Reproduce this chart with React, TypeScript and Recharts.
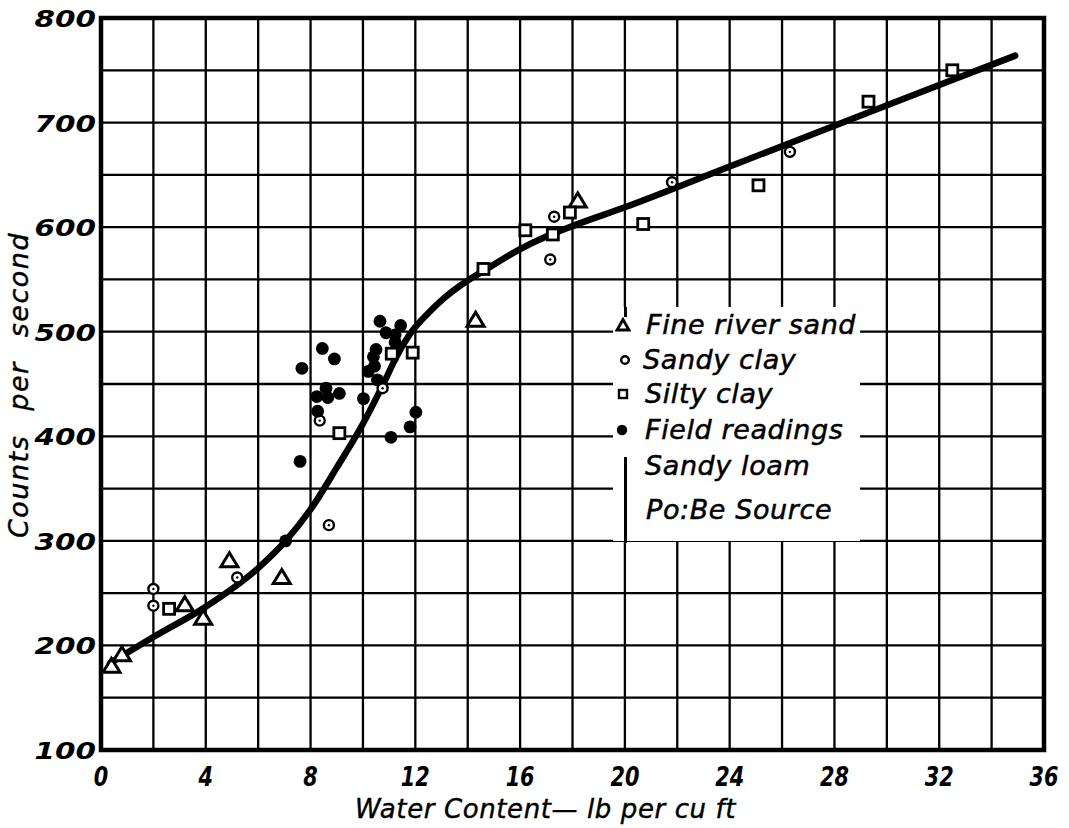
import React from 'react';
import {
  ComposedChart,
  Scatter,
  Line,
  XAxis,
  YAxis,
  CartesianGrid,
  ReferenceArea,
  Legend,
} from 'recharts';

// ---- axes ----
const xGridTicks = [0, 2, 4, 6, 8, 10, 12, 14, 16, 18, 20, 22, 24, 26, 28, 30, 32, 34, 36];
const yGridTicks = [100, 150, 200, 250, 300, 350, 400, 450, 500, 550, 600, 650, 700, 750, 800];
const xLabelEvery = 4;
const yLabelEvery = 100;

// ---- Fine river sand (triangles) ----
const sandX = [0.4, 0.8, 3.2, 3.9, 4.9, 6.9, 14.3, 18.2];
const sandY = [180, 191, 239, 226, 281, 265, 511, 625];

// ---- Sandy clay (circles) ----
const sandyClayX = [2.0, 2.0, 5.2, 8.35, 8.7, 10.75, 17.3, 17.15, 21.8, 26.3];
const sandyClayY = [254, 238, 265, 415, 315, 446, 610, 569, 643, 672];

// ---- Silty clay (squares) ----
const siltyClayX = [2.6, 9.1, 11.1, 11.9, 14.6, 16.2, 17.25, 17.9, 20.7, 25.1, 29.3, 32.5];
const siltyClayY = [235, 403, 479, 480, 560, 597, 593, 614, 603, 640, 720, 750];

// ---- Field readings, sandy loam (filled dots) ----
const fieldX = [
  7.05, 7.6, 7.67, 8.24, 8.27, 8.45, 8.59, 8.66, 8.91, 9.1, 10.02, 10.2, 10.4, 10.44, 10.5,
  10.55, 10.65, 10.88, 11.07, 11.23, 11.23, 11.44, 11.8, 12.02,
];
const fieldY = [
  300, 376, 465, 438, 424, 484, 446, 437, 474, 441, 436, 462, 476, 467, 483,
  454, 510, 499, 399, 497, 490, 506, 409, 423,
];

// ---- fitted curve ----
const curveX = [0.35, 2, 4, 6, 7.05, 8, 9, 10, 10.72, 11.3, 11.86, 12.5, 13, 14, 14.6, 16, 17, 18, 20, 24, 28, 32, 34.9];
const curveY = [183, 208, 237, 274, 300, 330, 370, 412, 447, 477, 500, 518, 530, 549, 558, 579, 591, 601, 619, 658, 697, 736, 764];

const toPts = (xs: number[], ys: number[]) => xs.map((x, i) => ({ x, y: ys[i] }));
const sandData = toPts(sandX, sandY);
const sandyClayData = toPts(sandyClayX, sandyClayY);
const siltyClayData = toPts(siltyClayX, siltyClayY);
const fieldData = toPts(fieldX, fieldY);
const curveData = toPts(curveX, curveY);

const legendRows = ['Fine river sand', 'Sandy clay', 'Silty clay', 'Field readings', 'Sandy loam', 'Po:Be Source'];

const FONT = '"DejaVu Sans", sans-serif';

const TriangleShape = (p: any) => (
  <polygon
    points={`${p.cx},${p.cy - 8} ${p.cx - 8.5},${p.cy + 6} ${p.cx + 8.5},${p.cy + 6}`}
    fill="#fff"
    stroke="#000"
    strokeWidth={3}
    strokeLinejoin="miter"
  />
);
const CircleShape = (p: any) => (
  <g>
    <circle cx={p.cx} cy={p.cy} r={5} fill="#fff" stroke="#000" strokeWidth={2.4} />
    <circle cx={p.cx} cy={p.cy} r={1.2} fill="#000" />
  </g>
);
const SquareShape = (p: any) => (
  <rect x={p.cx - 5.5} y={p.cy - 5.5} width={11} height={11} fill="#fff" stroke="#000" strokeWidth={2.8} />
);
const DotShape = (p: any) => <circle cx={p.cx} cy={p.cy} r={6.4} fill="#000" />;

const XTick = (props: any) => {
  const { x, y, payload } = props;
  if (payload.value % xLabelEvery !== 0) return <g />;
  return (
    <g transform={`translate(${x},${y})`}>
      <text
        x={0}
        y={0}
        dy={36}
        textAnchor="middle"
        transform="scale(0.8,1)"
        fontFamily={FONT}
        fontStyle="italic"
        fontWeight="bold"
        fontSize={26}
        fill="#000"
      >
        {payload.value}
      </text>
    </g>
  );
};

const YTick = (props: any) => {
  const { x, y, payload } = props;
  if (payload.value % yLabelEvery !== 0) return <g />;
  return (
    <g transform={`translate(${x - 5},${y})`}>
      <text
        x={0}
        y={0}
        dy={9}
        textAnchor="end"
        transform="scale(1.28,1)"
        fontFamily={FONT}
        fontStyle="italic"
        fontWeight="bold"
        fontSize={23}
        fill="#000"
      >
        {payload.value}
      </text>
    </g>
  );
};

const XTitle = (props: any) => {
  const vb = props.viewBox;
  return (
    <text
      x={vb.x + vb.width / 2 - 27}
      y={vb.y + 68}
      textAnchor="middle"
      fontFamily={FONT}
      fontStyle="italic"
      fontSize={26}
      letterSpacing={0.6}
      stroke="#000"
      strokeWidth={0.4}
      fill="#000"
    >
      Water Content— lb per cu ft
    </text>
  );
};

const YTitle = (props: any) => {
  const vb = props.viewBox;
  const cx = vb.x + 28;
  const cy = vb.y + vb.height / 2 + 1;
  return (
    <text
      x={cx}
      y={cy}
      transform={`rotate(-90, ${cx}, ${cy})`}
      textAnchor="middle"
      fontFamily={FONT}
      fontStyle="italic"
      fontSize={27}
      letterSpacing={1.5}
      wordSpacing={14}
      stroke="#000"
      strokeWidth={0.4}
      fill="#000"
    >
      Counts per second
    </text>
  );
};

const LegendIcon = ({ kind }: { kind: number }) => {
  const s = 16;
  const c = s / 2;
  return (
    <svg width={s} height={s} style={{ display: 'block' }}>
      {kind === 0 && (
        <polygon points={`${c},2.5 ${c - 6},13 ${c + 6},13`} fill="#fff" stroke="#000" strokeWidth={2.8} />
      )}
      {kind === 1 && <circle cx={c} cy={c} r={3.8} fill="#fff" stroke="#000" strokeWidth={2.4} />}
      {kind === 2 && <rect x={c - 4} y={c - 4} width={8} height={8} fill="#fff" stroke="#000" strokeWidth={2.4} />}
      {kind === 3 && <circle cx={c} cy={c} r={5.2} fill="#000" />}
    </svg>
  );
};

const rowTops = [18, 53, 87, 123, 159, 203];
const iconLefts = [2, 4, 2, 1];
const textLefts = [33, 30, 32, 32, 32, 33];

const renderLegend = () => (
  <div
    style={{
      position: 'relative',
      width: 247,
      height: 234,
      background: '#fff',
      fontFamily: FONT,
      fontStyle: 'italic',
      fontSize: 27,
      letterSpacing: 0.6,
      color: '#000',
      WebkitTextStroke: '0.5px #000',
    }}
  >
    <div style={{ position: 'absolute', left: 11, top: 0, width: 2.5, height: 10, background: '#000' }} />
    <div style={{ position: 'absolute', left: 11, top: 150, width: 2.5, height: 86, background: '#000' }} />
    {legendRows.map((label, i) => (
      <React.Fragment key={label}>
        {i < 4 && (
          <div style={{ position: 'absolute', left: iconLefts[i], top: rowTops[i] - 8 }}>
            <LegendIcon kind={i} />
          </div>
        )}
        <div
          style={{
            position: 'absolute',
            left: textLefts[i],
            top: rowTops[i] - 17,
            lineHeight: '34px',
            whiteSpace: 'nowrap',
          }}
        >
          {label}
        </div>
      </React.Fragment>
    ))}
  </div>
);

export default function App() {
  return (
    <div style={{ position: 'absolute', left: 0, top: 0, background: '#fff' }}>
      <ComposedChart
        width={1069}
        height={828}
        margin={{ top: 18, right: 25, bottom: 0, left: 0 }}
        style={{ background: '#fff' }}
      >
        <CartesianGrid stroke="#000" strokeWidth={2.3} strokeOpacity={1} />
        <XAxis
          type="number"
          dataKey="x"
          domain={[0, 36]}
          ticks={xGridTicks}
          interval={0}
          allowDataOverflow
          height={78}
          axisLine={false}
          tickLine={false}
          tickSize={0}
          tickMargin={0}
          tick={<XTick />}
          label={XTitle}
        />
        <YAxis
          type="number"
          dataKey="y"
          domain={[100, 800]}
          ticks={yGridTicks}
          interval={0}
          allowDataOverflow
          width={101}
          axisLine={false}
          tickLine={false}
          tickSize={0}
          tickMargin={0}
          tick={<YTick />}
          label={YTitle}
        />
        <ReferenceArea
          x1={0}
          x2={36}
          y1={100}
          y2={800}
          fill="none"
          fillOpacity={0}
          stroke="#000"
          strokeWidth={4.5}
        />
        <Line
          data={curveData}
          dataKey="y"
          type="monotone"
          stroke="#000"
          strokeWidth={6.5}
          strokeLinecap="round"
          dot={false}
          activeDot={false}
          isAnimationActive={false}
          legendType="none"
        />
        <Scatter name="Fine river sand" data={sandData} dataKey="y" shape={TriangleShape} isAnimationActive={false} />
        <Scatter name="Sandy clay" data={sandyClayData} dataKey="y" shape={CircleShape} isAnimationActive={false} />
        <Scatter name="Silty clay" data={siltyClayData} dataKey="y" shape={SquareShape} isAnimationActive={false} />
        <Scatter name="Field readings" data={fieldData} dataKey="y" shape={DotShape} isAnimationActive={false} />
        <Legend
          layout="vertical"
          align="center"
          verticalAlign="middle"
          content={renderLegend}
          wrapperStyle={{ left: 613, top: 307, width: 247, height: 234, margin: 0, padding: 0 }}
        />
      </ComposedChart>
    </div>
  );
}
